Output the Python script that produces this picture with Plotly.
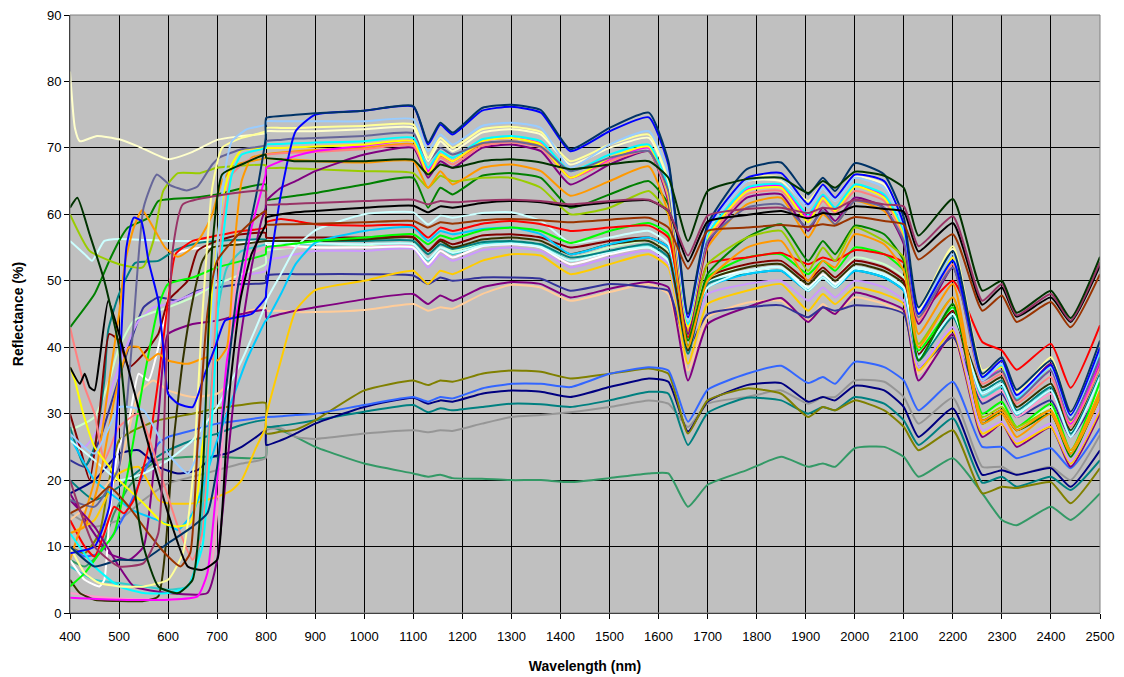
import plotly.graph_objects as go

SWIR_WL = [800, 830, 860, 900, 1000, 1100, 1130, 1155, 1180, 1240, 1300, 1360, 1420, 1500, 1580, 1620,
           1660, 1700, 1780, 1850, 1905, 1935, 1960, 2000, 2060, 2100, 2130, 2200, 2260,
           2300, 2330, 2400, 2440, 2500]

X_TICKS = list(range(400, 2501, 100))
Y_TICKS = list(range(0, 91, 10))

# ---------------- series (visible part + SWIR part) ----------------
seagreen_vis_wl = [400, 430, 460, 490, 520, 550, 580, 650, 700, 799]
seagreen_vis = [8, 7, 9, 15, 19, 21.5, 23, 23.5, 23.5, 23.5]
seagreen_swir = [28.0, 27.5, 26.5, 25.0, 22.5, 21.0, 20.5, 20.8, 20.3, 20.2, 20.0, 20.0, 19.7, 20.3, 21.0, 21.0,
                 16.0, 19.3, 21.5, 23.5, 22.0, 22.5, 22.0, 24.8, 25.0, 23.5, 20.5, 23.3, 18.0,
                 14.0, 13.2, 16.0, 14.0, 18.0]

gray_vis_wl = [400, 450, 500, 550, 600, 650, 700, 750, 799]
gray_vis = [15, 13, 14, 17, 19.5, 20.5, 21.5, 22.5, 23.3]
gray_swir = [27.5, 27.8, 26.5, 26.2, 27.0, 27.5, 27.2, 27.5, 27.4, 28.5, 29.5, 29.8, 30.2, 31.0, 32.0, 31.5,
             28.0, 31.5, 32.5, 33.5, 31.5, 32.5, 32.5, 35.0, 34.8, 32.5, 28.5, 32.4, 22.0,
             22.0, 20.8, 22.0, 20.0, 26.8]

teal2_vis_wl = [400, 450, 500, 550, 600, 650, 700, 750, 799]
teal2_vis = [20, 17, 19, 22, 24.5, 26, 27, 28.3, 29]
teal2_swir = [28.0, 28.2, 28.5, 29.0, 30.3, 31.3, 30.2, 30.8, 30.5, 31.0, 31.5, 31.4, 31.0, 32.0, 33.3, 33.0,
              25.3, 30.1, 32.4, 32.0, 30.0, 31.0, 30.5, 32.5, 31.5, 29.0, 25.3, 29.3, 19.6,
              20.5, 19.0, 20.5, 18.5, 23.0]

navy_vis_wl = [400, 450, 500, 540, 580, 620, 660, 690, 720, 750, 780, 799]
navy_vis = [18, 20, 24, 24.5, 22, 21, 21.5, 23.5, 24, 25, 26.5, 27.5]
navy_swir = [25.3, 26.0, 27.0, 28.5, 31.0, 32.4, 31.5, 32.0, 31.8, 33.0, 33.5, 33.3, 32.5, 34.0, 35.3, 34.8,
             27.3, 31.8, 34.3, 34.6, 31.8, 32.5, 32.0, 34.2, 33.5, 31.0, 26.5, 30.8, 20.8,
             21.5, 20.8, 21.8, 19.0, 24.5]

olive_vis_wl = [400, 430, 460, 480, 500, 530, 580, 650, 700, 750, 799]
olive_vis = [10, 9, 12, 20, 26, 27.5, 29, 30, 30.8, 31.3, 31.6]
olive_swir = [27.0, 27.3, 27.6, 29.0, 33.5, 35.0, 34.3, 35.0, 34.8, 36.0, 36.5, 36.3, 35.3, 36.0, 36.8, 36.0,
              27.0, 32.0, 33.8, 33.0, 29.5, 31.0, 30.5, 32.0, 30.5, 28.0, 24.5, 27.5, 18.0,
              19.0, 18.8, 19.7, 16.5, 21.8]

bblue_vis_wl = [400, 430, 460, 490, 520, 550, 580, 600, 650, 700, 750, 799]
bblue_vis = [10, 8.5, 9, 12, 16, 21, 25.5, 26.5, 27.5, 28.5, 29, 29.5]
bblue_swir = [29.5, 29.6, 29.8, 30.0, 31.3, 32.5, 31.8, 32.5, 32.3, 33.8, 34.5, 34.5, 34.0, 36.0, 37.0, 36.5,
              28.8, 33.6, 36.0, 37.2, 34.6, 35.5, 34.5, 37.8, 37.0, 35.0, 30.5, 34.8, 25.0,
              25.0, 23.3, 24.8, 21.8, 27.8]

peach_vis_wl = [400, 450, 500, 540, 570, 600, 650, 700, 716, 730, 750, 799]
peach_vis = [14, 17, 22, 33, 35, 33.5, 32.5, 33, 34, 42, 45, 46]
peach_swir = [45.5, 45.5, 45.3, 45.3, 45.6, 46.5, 45.5, 46.0, 45.8, 48.0, 49.4, 49.0, 47.0, 48.3, 49.5, 48.0,
              36.5, 44.5, 46.7, 47.0, 44.0, 46.5, 45.0, 47.5, 46.5, 45.0, 36.0, 41.5, 27.0,
              28.3, 25.5, 28.0, 22.5, 30.0]

purple2_vis_wl = [400, 440, 480, 520, 550, 575, 590, 600, 650, 700, 750, 799]
purple2_vis = [18, 13, 9, 8, 10, 25, 38, 42, 43.5, 44, 45, 45.6]
purple2_swir = [44.5, 45.0, 45.5, 46.0, 47.2, 48.0, 46.5, 47.8, 47.0, 49.0, 49.8, 49.5, 47.5, 48.8, 49.8, 49.0,
                35.0, 43.5, 46.0, 47.4, 43.8, 46.0, 45.0, 48.2, 47.0, 45.6, 35.0, 42.0, 26.5,
                28.5, 25.0, 28.0, 22.0, 30.0]

slateblue_vis_wl = [400, 430, 460, 490, 520, 550, 580, 620, 660, 700, 750, 799]
slateblue_vis = [23, 22, 26, 33, 40, 46, 47.5, 47, 48.5, 49, 49.5, 49.7]
slateblue_swir = [50.8, 51.0, 51.0, 51.0, 51.0, 50.8, 49.5, 50.5, 50.0, 50.5, 50.5, 50.3, 48.5, 49.5, 49.0, 48.5,
                  40.0, 45.0, 46.0, 46.3, 44.5, 46.0, 45.5, 46.3, 46.0, 45.0, 37.0, 41.5, 31.5,
                  33.0, 29.5, 32.0, 26.5, 33.5]

gold_vis_wl = [400, 450, 500, 540, 580, 600, 650, 700, 730, 750, 780, 799]
gold_vis = [12, 14, 21, 22, 17, 16.5, 16.5, 17.5, 18.5, 20, 25, 28]
gold_swir = [29.5, 38.0, 45.5, 48.6, 50.0, 51.5, 49.5, 51.5, 51.0, 53.0, 54.0, 53.8, 51.0, 52.5, 54.0, 52.0,
             37.5, 46.5, 48.5, 49.5, 45.5, 48.0, 46.5, 49.0, 48.0, 46.5, 36.5, 42.5, 27.0,
             28.5, 25.5, 28.0, 22.5, 30.5]

lavender_vis_wl = [400, 430, 460, 490, 520, 540, 570, 600, 650, 700, 750, 799]
lavender_vis = [26, 25, 28, 35, 41, 44, 46, 46.5, 48, 49.5, 50.8, 51.5]
lavender_swir = [53.0, 53.5, 54.0, 54.5, 54.5, 54.8, 52.0, 54.0, 53.0, 54.6, 55.0, 54.5, 52.0, 53.5, 54.5, 52.5,
                 39.5, 48.0, 49.5, 50.0, 47.0, 49.0, 47.5, 50.0, 49.0, 47.0, 37.0, 43.0, 27.5,
                 28.8, 25.8, 28.5, 22.8, 31.0]

ltgreen_vis_wl = [400, 450, 480, 500, 530, 560, 600, 650, 700, 750, 799]
ltgreen_vis = [27.5, 29.5, 35, 40, 44, 45, 46, 47.5, 49.5, 51, 52.5]
ltgreen_swir = [54.5, 54.8, 55.0, 55.0, 55.3, 55.6, 53.0, 55.0, 54.5, 55.7, 56.0, 55.5, 53.5, 55.0, 56.0, 54.5,
                42.5, 50.0, 52.5, 53.0, 50.0, 52.0, 50.5, 53.5, 52.5, 50.5, 39.5, 45.5, 29.5,
                31.2, 28.0, 31.0, 24.3, 34.0]

pink_vis_wl = [400, 450, 500, 600, 660, 690, 710, 730, 750, 799]
pink_vis = [3, 2.5, 2.2, 2, 2.5, 8, 25, 45, 53, 55]
pink_swir = [55.0, 55.0, 55.0, 55.0, 55.0, 55.2, 52.5, 54.5, 53.5, 55.2, 55.5, 55.0, 52.5, 54.0, 55.0, 53.0,
             43.0, 49.5, 51.0, 51.5, 48.5, 50.5, 49.0, 51.5, 50.5, 48.5, 39.0, 45.0, 32.0,
             33.5, 29.5, 33.0, 26.5, 35.0]

turq_vis_wl = [400, 450, 500, 550, 600, 640, 660, 680, 700, 720, 750, 799]
turq_vis = [7, 5, 4.5, 4, 3.5, 4, 8, 25, 45, 52, 54.5, 55.5]
turq_swir = [55.8, 55.7, 55.6, 55.5, 55.5, 55.5, 53.0, 55.0, 54.0, 55.5, 55.8, 55.3, 53.0, 54.5, 55.2, 53.0,
             42.5, 49.5, 51.0, 51.5, 48.5, 50.5, 49.0, 51.5, 50.5, 48.5, 39.0, 45.5, 32.5,
             34.0, 29.8, 34.0, 27.0, 36.0]

white_vis_wl = [400, 430, 460, 470, 480, 490, 500, 520, 540, 560, 580, 600, 614, 650, 700, 799]
white_vis = [8, 5, 4, 5, 14, 21, 25, 29, 36, 35, 40, 47.5, 54, 54.8, 55.2, 56]
white_swir = [55.5, 55.5, 55.2, 55.0, 55.0, 55.0, 52.5, 54.5, 53.5, 55.2, 55.5, 55.0, 52.5, 54.0, 55.0, 53.0,
              44.5, 50.0, 51.5, 52.0, 49.0, 51.0, 49.5, 52.0, 51.0, 49.0, 39.5, 46.0, 33.5,
              35.5, 30.5, 34.5, 27.5, 36.5]

ltcyan2_vis_wl = [400, 430, 445, 470, 500, 600, 700, 799]
ltcyan2_vis = [56, 54, 53, 56, 56.3, 56, 56, 56.2]
ltcyan2_swir = [55.8, 55.8, 55.7, 55.6, 55.5, 55.5, 53.2, 55.0, 54.2, 55.3, 55.6, 55.1, 53.0, 54.3, 55.0, 53.0,
                43.5, 49.8, 51.2, 51.6, 48.8, 50.6, 49.2, 51.8, 50.8, 48.8, 39.2, 45.7, 33.2,
                35.0, 30.2, 34.2, 27.2, 36.2]

teal1_vis_wl = [400, 430, 450, 470, 478, 500, 533, 580, 614, 660, 700, 799]
teal1_vis = [28, 22, 25, 35, 42.6, 48, 52.7, 53, 54.6, 55.7, 56, 56.2]
teal1_swir = [56.0, 56.0, 56.0, 56.0, 56.0, 56.0, 54.0, 55.5, 54.8, 55.8, 56.0, 55.5, 53.5, 54.5, 55.5, 53.5,
              39.0, 49.5, 51.0, 51.5, 48.5, 50.5, 49.0, 51.5, 50.5, 48.5, 38.0, 44.5, 33.5,
              35.0, 30.5, 34.0, 27.0, 36.0]

dkolive_vis_wl = [400, 420, 450, 500, 550, 580, 595, 610, 630, 650, 670, 690, 750, 799]
dkolive_vis = [5, 3, 2, 1.8, 1.8, 2.5, 10, 25, 38, 47, 53, 55, 55.5, 56]
dkolive_swir = [56.0, 56.0, 56.0, 56.0, 56.2, 56.5, 54.5, 56.0, 55.0, 56.2, 56.5, 56.0, 54.0, 55.5, 56.0, 54.0,
                39.5, 50.0, 52.0, 52.5, 49.5, 51.5, 50.0, 52.5, 51.5, 49.5, 38.5, 45.0, 34.0,
                35.5, 31.0, 34.5, 27.5, 37.0]

dkred_vis_wl = [400, 420, 440, 460, 480, 500, 520, 550, 580, 600, 620, 640, 660, 700, 750, 799]
dkred_vis = [30, 25, 20, 30, 42, 41, 37, 39, 42, 47, 48.5, 50, 54.5, 56, 57, 57.2]
dkred_swir = [56.5, 56.5, 56.5, 56.5, 56.5, 56.6, 54.5, 56.2, 55.5, 56.8, 57.0, 56.5, 55.0, 56.0, 56.5, 55.0,
              40.0, 50.5, 52.5, 53.0, 50.0, 52.0, 50.5, 53.0, 52.0, 50.0, 39.0, 45.5, 29.0,
              30.5, 27.5, 30.0, 24.0, 32.5]

sky_vis_wl = [400, 450, 500, 527, 560, 594, 620, 650, 675, 700, 730, 760, 799]
sky_vis = [26.5, 20, 17, 15.5, 14.5, 13.5, 12.5, 15, 20, 26, 32, 38, 44]
sky_swir = [44.0, 48.0, 52.5, 55.7, 57.5, 58.0, 56.0, 57.5, 57.0, 57.8, 58.0, 57.0, 54.0, 55.5, 56.5, 55.0,
            42.0, 49.0, 51.0, 51.5, 48.5, 50.5, 49.0, 51.5, 50.5, 48.5, 38.5, 45.0, 33.0,
            34.5, 30.0, 33.5, 26.5, 35.5]

ltcyan_vis_wl = [400, 450, 500, 550, 600, 650, 700, 750, 799]
ltcyan_vis = [26, 23, 20, 21, 23, 26, 31, 38, 46.5]
ltcyan_swir = [47.0, 51.0, 55.0, 57.6, 60.0, 60.3, 58.5, 59.8, 59.5, 60.2, 60.3, 59.0, 55.7, 56.5, 57.5, 55.5,
               44.0, 49.0, 51.5, 52.0, 48.5, 50.5, 49.0, 52.0, 51.0, 49.0, 38.5, 45.0, 33.0,
               34.5, 30.0, 33.5, 26.5, 35.5]

lime_vis_wl = [400, 430, 460, 490, 520, 550, 580, 600, 650, 700, 750, 799]
lime_vis = [4, 6, 9, 12, 22, 35, 46, 49.5, 50.5, 52, 53, 54]
lime_swir = [55.0, 55.3, 55.6, 56.0, 56.5, 57.0, 55.5, 56.8, 56.3, 57.6, 58.0, 57.5, 55.7, 57.5, 58.7, 57.0,
             40.0, 50.5, 53.5, 54.0, 51.0, 53.0, 51.5, 55.0, 54.0, 51.5, 39.5, 46.0, 30.0,
             31.8, 28.0, 31.5, 24.5, 34.8]

red_vis_wl = [400, 430, 450, 470, 490, 510, 530, 560, 580, 600, 615, 650, 700, 750, 799]
red_vis = [14, 10, 8.5, 12, 16, 15, 17, 25, 35, 47, 54, 56, 56.8, 57.5, 58]
red_swir = [58.8, 59.3, 59.0, 58.5, 58.3, 58.3, 56.5, 58.0, 57.5, 58.6, 59.0, 58.5, 57.5, 58.0, 58.3, 56.5,
            41.5, 52.5, 53.5, 54.2, 52.5, 53.5, 53.0, 54.6, 54.0, 52.7, 45.0, 50.0, 40.8,
            39.5, 36.6, 40.5, 33.9, 43.3]

green_vis_wl = [400, 450, 480, 500, 518, 560, 580, 650, 700, 799]
green_vis = [43, 48, 53, 56, 58, 59.5, 62, 62.5, 63, 64.5]
green_swir = [62.2, 62.5, 62.8, 63.2, 64.5, 65.5, 61.0, 64.0, 63.0, 65.8, 66.2, 65.5, 61.0, 63.0, 65.0, 61.5,
              41.0, 51.0, 56.5, 58.5, 53.0, 56.0, 54.0, 58.3, 57.0, 53.0, 38.0, 46.5, 28.5,
              30.5, 27.5, 30.0, 23.5, 33.0]

ygreen_vis_wl = [400, 440, 500, 548, 570, 590, 620, 665, 700, 799]
ygreen_vis = [60, 54.5, 52.5, 52, 56, 63.5, 66.2, 66.2, 67, 67.4]
ygreen_swir = [67.0, 67.0, 66.9, 66.8, 66.5, 66.2, 64.0, 65.8, 65.0, 65.5, 65.5, 64.0, 60.0, 61.0, 63.5, 60.0,
               42.0, 52.5, 56.5, 57.5, 51.5, 55.0, 53.0, 58.0, 56.0, 53.5, 40.5, 47.5, 29.5,
               31.0, 28.0, 30.5, 24.0, 33.0]

orange2_vis_wl = [400, 430, 460, 490, 520, 540, 560, 580, 600, 640, 680, 700, 720, 735, 750, 770, 799]
orange2_vis = [12, 13, 20, 32, 40, 40, 38, 39, 38, 37.5, 38.5, 38, 40, 55, 65, 68.5, 69]
orange2_swir = [68.5, 68.3, 68.2, 68.0, 67.8, 68.0, 64.0, 66.5, 64.5, 67.0, 67.5, 66.5, 62.8, 65.0, 67.2, 60.0,
                40.0, 50.0, 55.0, 56.0, 50.0, 53.0, 52.0, 57.0, 55.5, 51.5, 40.0, 47.5, 28.5,
                30.0, 26.5, 30.0, 24.0, 32.5]

orange1_vis_wl = [400, 450, 480, 500, 512, 530, 547, 573, 594, 620, 650, 670, 690, 710, 740, 799]
orange1_vis = [8, 20, 35, 45, 52.7, 58, 60.6, 57.6, 55, 53.6, 55, 57, 60, 65, 67.5, 68.5]
orange1_swir = [69.0, 69.3, 69.5, 69.7, 70.0, 70.5, 66.0, 68.8, 68.0, 70.6, 71.0, 70.3, 65.5, 68.0, 69.5, 62.0,
                42.5, 55.0, 61.5, 62.5, 56.5, 60.0, 58.5, 62.0, 60.5, 56.0, 42.0, 49.5, 29.0,
                30.5, 27.5, 30.5, 24.5, 33.5]

purple1_vis_wl = [400, 450, 500, 530, 600, 680, 700, 720, 745, 770, 790, 799]
purple1_vis = [17, 13, 7, 4, 3, 3, 8, 22, 40, 52, 59, 61]
purple1_swir = [62.0, 64.0, 65.0, 66.5, 69.0, 70.0, 65.5, 68.0, 67.0, 70.0, 70.5, 69.5, 64.5, 67.5, 69.5, 62.0,
                42.0, 55.5, 62.5, 63.0, 57.5, 61.0, 59.0, 62.5, 61.0, 55.5, 43.5, 52.0, 35.5,
                37.5, 32.8, 37.5, 29.0, 37.8]

salmon_vis_wl = [400, 430, 450, 470, 500, 540, 580, 620, 650, 670, 690, 710, 730, 760, 799]
salmon_vis = [43, 34, 30, 23, 28, 30, 22, 13, 8, 12, 35, 58, 66, 68, 69]
salmon_swir = [69.0, 69.2, 69.3, 69.4, 69.8, 70.3, 66.0, 68.5, 67.5, 70.3, 70.8, 70.0, 65.5, 68.0, 69.5, 62.5,
               43.0, 56.0, 63.0, 63.5, 59.0, 62.0, 60.2, 63.5, 62.0, 56.5, 44.0, 52.5, 34.5,
               36.0, 31.5, 35.5, 28.0, 37.0]

magenta_vis_wl = [400, 500, 600, 660, 680, 700, 720, 745, 770, 799]
magenta_vis = [2.3, 2, 2, 2.5, 6, 20, 38, 47, 58, 66]
magenta_swir = [67.0, 68.0, 68.8, 69.5, 70.3, 71.0, 66.5, 69.0, 68.0, 71.0, 71.5, 70.6, 65.5, 68.3, 70.0, 63.0,
                43.5, 56.5, 63.7, 64.3, 59.5, 62.8, 60.8, 64.3, 62.8, 57.2, 44.5, 53.5, 35.0,
                37.0, 32.0, 36.5, 28.5, 38.0]

yellow_vis_wl = [400, 410, 425, 450, 480, 500, 550, 590, 620, 645, 660, 675, 690, 710, 730, 750, 799]
yellow_vis = [37, 35, 30.5, 25, 22, 20, 16.5, 13.5, 13, 13.5, 18, 30, 48, 62, 67.5, 69.7, 70]
yellow_swir = [70.0, 70.0, 70.1, 70.2, 70.5, 71.0, 66.0, 69.0, 68.0, 71.0, 71.5, 70.5, 65.5, 68.5, 70.2, 63.0,
               43.0, 56.5, 63.5, 64.0, 58.8, 62.5, 60.5, 64.2, 62.5, 57.0, 44.5, 53.5, 35.5,
               37.0, 32.0, 37.0, 28.8, 38.8]

cyan_vis_wl = [400, 450, 500, 550, 600, 640, 670, 690, 710, 730, 750, 799]
cyan_vis = [12, 7, 4, 3, 3, 4, 10, 30, 55, 66, 69, 70]
cyan_swir = [70.5, 70.6, 70.7, 70.8, 71.0, 71.5, 67.0, 69.5, 68.5, 71.3, 71.8, 71.0, 66.5, 69.0, 70.5, 64.0,
             43.5, 57.0, 64.0, 64.5, 60.0, 63.0, 61.0, 64.5, 63.0, 57.5, 45.0, 53.0, 35.5,
             37.3, 32.3, 37.0, 29.0, 39.0]

slate_vis_wl = [400, 450, 500, 520, 530, 550, 577, 604, 638, 660, 690, 706, 750, 799]
slate_vis = [17, 16, 22, 35, 44, 61, 66, 64.4, 63.6, 64.2, 67.5, 68.6, 69.8, 70.4]
slate_swir = [71.0, 71.2, 71.4, 71.5, 71.8, 72.2, 68.0, 70.0, 69.0, 70.7, 71.0, 70.2, 66.5, 68.5, 69.5, 63.5,
              44.0, 56.0, 61.0, 61.5, 58.0, 60.5, 58.5, 62.0, 61.0, 56.0, 44.5, 52.0, 35.0,
              36.5, 32.0, 36.5, 29.0, 38.5]

ltyellow_vis_wl = [400, 410, 420, 455, 500, 540, 600, 650, 700, 750, 799]
ltyellow_vis = [81.5, 73, 71, 71.8, 71.3, 70.2, 68.3, 69.4, 71.2, 71.8, 72.2]
ltyellow_swir = [72.5, 72.5, 72.5, 72.5, 72.8, 73.0, 68.0, 71.0, 69.5, 72.3, 72.8, 72.0, 67.5, 70.0, 71.5, 65.0,
                 44.0, 57.5, 65.0, 65.0, 61.5, 64.0, 62.0, 65.7, 64.5, 58.5, 45.5, 54.8, 36.0,
                 37.5, 32.8, 38.0, 29.5, 39.8]

paleyellow_vis_wl = [400, 430, 460, 500, 550, 600, 630, 650, 670, 690, 710, 750, 799]
paleyellow_vis = [10, 6, 4.5, 4, 4, 5, 9, 20, 45, 64, 70, 71.5, 72.5]
paleyellow_swir = [73.0, 73.0, 73.0, 73.1, 73.3, 73.5, 68.5, 71.5, 70.0, 72.8, 73.2, 72.4, 68.0, 70.5, 72.0, 65.5,
                   44.5, 58.0, 65.5, 65.5, 62.0, 64.5, 62.5, 66.2, 65.0, 59.0, 46.0, 55.2, 36.5,
                   38.0, 33.2, 38.5, 30.0, 40.2]

ltblue_vis_wl = [400, 450, 480, 500, 550, 600, 640, 665, 685, 700, 715, 730, 760, 799]
ltblue_vis = [27, 24, 28, 31, 30.5, 24, 21, 25, 40, 55, 66, 71, 72.8, 73.5]
ltblue_swir = [74.0, 74.0, 74.0, 74.0, 74.0, 74.3, 69.5, 72.0, 70.5, 73.3, 73.8, 73.0, 67.0, 70.5, 72.5, 66.0,
               44.0, 57.5, 65.0, 65.5, 61.0, 64.0, 62.0, 65.5, 64.0, 58.0, 45.0, 54.0, 35.0,
               37.5, 32.5, 37.0, 29.5, 39.5]

blue_vis_wl = [400, 450, 480, 500, 515, 530, 545, 560, 580, 590, 600, 620, 650, 675, 696, 716, 740, 770, 799]
blue_vis = [9, 10, 16, 35, 55, 59.5, 59, 53, 47, 40, 33, 31.5, 31, 36, 40, 44, 44.5, 45, 47.5]
blue_swir = [48.5, 63.0, 72.5, 75.0, 75.6, 76.2, 70.5, 73.5, 72.0, 75.6, 76.2, 75.3, 69.5, 72.5, 74.6, 67.5,
             44.5, 58.0, 65.5, 66.2, 61.5, 64.5, 62.5, 66.0, 65.0, 58.5, 45.0, 53.0, 35.5,
             38.0, 32.8, 37.3, 29.8, 40.0]

dknavy_vis_wl = [400, 450, 500, 550, 600, 650, 680, 700, 720, 740, 760, 780, 799]
dknavy_vis = [10, 7, 8, 8, 10.5, 13, 15, 22, 35, 48, 56, 63, 71.5]
dknavy_swir = [74.5, 74.8, 75.0, 75.2, 75.6, 76.3, 70.8, 73.8, 72.3, 76.0, 76.5, 75.7, 69.8, 73.0, 75.3, 68.0,
               45.0, 58.5, 66.8, 67.8, 63.0, 65.5, 63.5, 67.7, 66.0, 59.5, 46.0, 54.5, 36.0,
               38.5, 33.6, 38.0, 30.3, 41.0]

brown_vis_wl = [400, 450, 480, 520, 560, 600, 625, 645, 660, 680, 700, 750, 799]
brown_vis = [15, 17, 19, 16, 12, 8.5, 7, 9, 25, 45, 53, 57.5, 60.5]
brown_swir = [58.5, 58.5, 58.5, 58.6, 58.8, 59.0, 58.0, 58.8, 58.6, 59.1, 59.3, 59.1, 58.8, 59.2, 59.5, 58.0,
              51.8, 57.5, 58.0, 58.4, 58.1, 58.5, 58.3, 59.6, 59.0, 58.5, 53.2, 57.0, 45.5,
              47.8, 43.8, 46.8, 43.0, 51.0]

black_vis_wl = [400, 420, 430, 440, 450, 460, 478, 500, 550, 600, 640, 670, 700, 710, 725, 747, 770, 799]
black_vis = [37, 34.5, 36, 34, 33.5, 38, 47, 42, 28, 15, 7, 6.5, 8, 15, 33, 47, 54, 58.5]
black_swir = [59.5, 60.0, 60.3, 60.5, 61.0, 61.3, 60.3, 61.2, 61.0, 61.7, 62.0, 61.8, 61.2, 61.8, 62.1, 60.5,
              52.9, 58.9, 59.9, 60.5, 59.4, 60.2, 60.0, 61.2, 60.8, 60.4, 54.4, 58.7, 46.4,
              49.0, 44.6, 47.5, 43.8, 52.3]

plum_vis_wl = [400, 450, 500, 550, 580, 595, 610, 630, 700, 799]
plum_vis = [20, 10, 7, 7.5, 12, 35, 55, 61.5, 62.8, 63.5]
plum_swir = [61.5, 61.5, 61.6, 61.7, 62.0, 62.2, 61.5, 62.0, 61.8, 62.1, 62.2, 62.0, 61.5, 62.0, 62.2, 60.5,
             53.8, 59.8, 60.8, 61.0, 60.2, 61.0, 60.8, 62.2, 61.5, 61.2, 55.2, 59.7, 47.0,
             49.5, 44.8, 48.0, 44.0, 52.8]

dkgreen_vis_wl = [400, 415, 440, 470, 500, 520, 550, 580, 620, 650, 670, 690, 710, 750, 799]
dkgreen_vis = [61, 62.5, 57, 50, 40, 25, 10, 4, 3, 5, 20, 55, 66, 67.5, 69.0]
dkgreen_swir = [68.5, 68.3, 68.0, 68.0, 68.0, 68.2, 66.0, 67.5, 67.0, 68.0, 68.3, 67.8, 66.8, 67.5, 68.0, 65.5,
                56.0, 63.5, 65.3, 65.5, 63.2, 65.0, 64.0, 66.4, 65.8, 64.0, 56.8, 62.3, 48.5,
                50.0, 45.2, 48.5, 44.4, 53.6]

SERIES = [
    ("#339966", seagreen_vis_wl, seagreen_vis, seagreen_swir),
    ("#969696", gray_vis_wl, gray_vis, gray_swir),
    ("#008080", teal2_vis_wl, teal2_vis, teal2_swir),
    ("#000080", navy_vis_wl, navy_vis, navy_swir),
    ("#808000", olive_vis_wl, olive_vis, olive_swir),
    ("#3366FF", bblue_vis_wl, bblue_vis, bblue_swir),
    ("#FFCC99", peach_vis_wl, peach_vis, peach_swir),
    ("#800080", purple2_vis_wl, purple2_vis, purple2_swir),
    ("#333399", slateblue_vis_wl, slateblue_vis, slateblue_swir),
    ("#FFCC00", gold_vis_wl, gold_vis, gold_swir),
    ("#CC99FF", lavender_vis_wl, lavender_vis, lavender_swir),
    ("#CCFFCC", ltgreen_vis_wl, ltgreen_vis, ltgreen_swir),
    ("#FF99CC", pink_vis_wl, pink_vis, pink_swir),
    ("#33CCCC", turq_vis_wl, turq_vis, turq_swir),
    ("#FFFFFF", white_vis_wl, white_vis, white_swir),
    ("#CCFFFF", ltcyan2_vis_wl, ltcyan2_vis, ltcyan2_swir),
    ("#008080", teal1_vis_wl, teal1_vis, teal1_swir),
    ("#333300", dkolive_vis_wl, dkolive_vis, dkolive_swir),
    ("#800000", dkred_vis_wl, dkred_vis, dkred_swir),
    ("#00CCFF", sky_vis_wl, sky_vis, sky_swir),
    ("#CCFFFF", ltcyan_vis_wl, ltcyan_vis, ltcyan_swir),
    ("#00FF00", lime_vis_wl, lime_vis, lime_swir),
    ("#FF0000", red_vis_wl, red_vis, red_swir),
    ("#008000", green_vis_wl, green_vis, green_swir),
    ("#99CC00", ygreen_vis_wl, ygreen_vis, ygreen_swir),
    ("#FF9900", orange2_vis_wl, orange2_vis, orange2_swir),
    ("#FF9900", orange1_vis_wl, orange1_vis, orange1_swir),
    ("#800080", purple1_vis_wl, purple1_vis, purple1_swir),
    ("#FF8080", salmon_vis_wl, salmon_vis, salmon_swir),
    ("#FF00FF", magenta_vis_wl, magenta_vis, magenta_swir),
    ("#FFFF00", yellow_vis_wl, yellow_vis, yellow_swir),
    ("#00FFFF", cyan_vis_wl, cyan_vis, cyan_swir),
    ("#666699", slate_vis_wl, slate_vis, slate_swir),
    ("#FFFFCC", ltyellow_vis_wl, ltyellow_vis, ltyellow_swir),
    ("#FFFF99", paleyellow_vis_wl, paleyellow_vis, paleyellow_swir),
    ("#99CCFF", ltblue_vis_wl, ltblue_vis, ltblue_swir),
    ("#0000FF", blue_vis_wl, blue_vis, blue_swir),
    ("#003366", dknavy_vis_wl, dknavy_vis, dknavy_swir),
    ("#993300", brown_vis_wl, brown_vis, brown_swir),
    ("#000000", black_vis_wl, black_vis, black_swir),
    ("#993366", plum_vis_wl, plum_vis, plum_swir),
    ("#003300", dkgreen_vis_wl, dkgreen_vis, dkgreen_swir),
]

fig = go.Figure()
for color, vwl, vr, sr in SERIES:
    n = min(len(SWIR_WL), len(sr))
    x = list(vwl) + SWIR_WL[:n]
    y = list(vr) + list(sr[:n])
    fig.add_trace(go.Scatter(x=x, y=y, mode="lines",
                             line=dict(color=color, width=2, shape="spline", smoothing=0.5),
                             hoverinfo="skip", showlegend=False))

font_family = "Arial, Liberation Sans, sans-serif"
fig.update_layout(
    width=1124, height=677,
    margin=dict(l=70, r=24, t=15, b=64, autoexpand=False),
    plot_bgcolor="#C0C0C0", paper_bgcolor="white",
    showlegend=False,
    font=dict(family=font_family, size=13, color="black"),
    xaxis=dict(range=[400, 2500], tickvals=X_TICKS, ticktext=[str(v) for v in X_TICKS],
               showgrid=True, gridcolor="black", gridwidth=1, zeroline=False,
               showline=True, linecolor="black", linewidth=1,
               ticks="outside", ticklen=5, tickcolor="black",
               ticklabelstandoff=6, automargin=False,
               tickfont=dict(size=13, family=font_family),
               title=dict(text="<b>Wavelength (nm)</b>", font=dict(size=14, family=font_family), standoff=18)),
    yaxis=dict(range=[0, 90], tickvals=Y_TICKS, ticktext=[str(v) for v in Y_TICKS],
               showgrid=True, gridcolor="black", gridwidth=1, zeroline=False,
               showline=True, linecolor="black", linewidth=1,
               ticks="outside", ticklen=5, tickcolor="black", automargin=False,
               tickfont=dict(size=13, family=font_family),
               title=dict(text="<b>Reflectance (%)</b>", font=dict(size=14, family=font_family), standoff=20)),
    shapes=[dict(type="rect", xref="paper", yref="paper", x0=0, y0=0, x1=1, y1=1,
                 line=dict(color="#808080", width=1), fillcolor="rgba(0,0,0,0)", layer="above")],
)

fig.write_html("out.html")
